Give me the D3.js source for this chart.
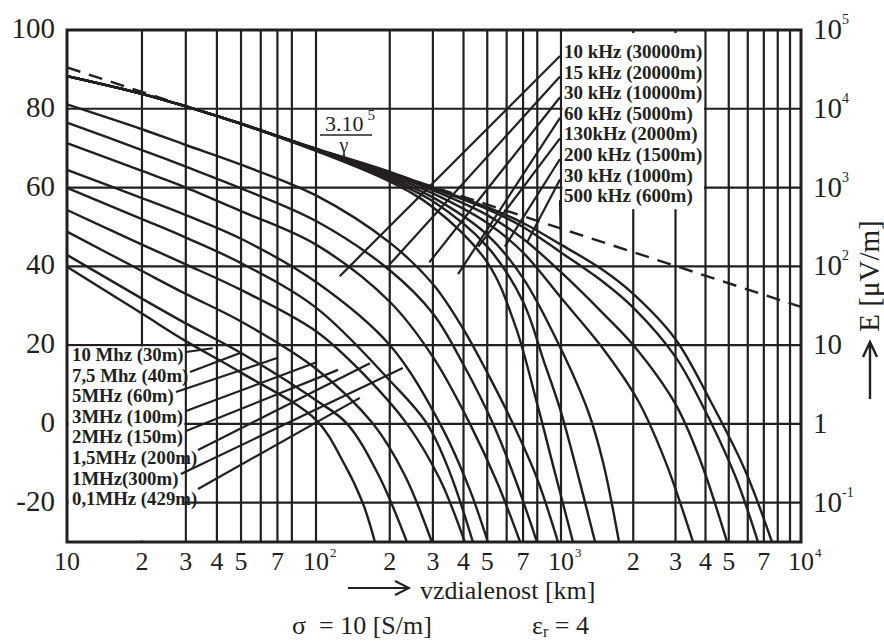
<!DOCTYPE html>
<html><head><meta charset="utf-8">
<script src="https://cdn.jsdelivr.net/npm/d3@7"></script>
<style>body{margin:0;background:#fff}svg{display:block}</style>
</head><body><svg id="c" width="884" height="642"></svg>
<script>
// ---------- data ----------
const yGridValues = [-20, 0, 20, 40, 60, 80];
const yTickLabels = ["-20", "0", "20", "40", "60", "80", "100"];
const yTickValues = [-20, 0, 20, 40, 60, 80, 100];
const rightTickBase = ["10", "1", "10", "10", "10", "10", "10"];
const rightTickExp  = ["-1", "", "", "2", "3", "4", "5"];
const xGridValues = [20,30,40,50,60,70,80,100,200,300,400,500,600,700,800,1000,2000,3000,4000,5000,6000,7000,8000,9000];
const xTickValues = [10,20,30,40,50,70,100,200,300,400,500,700,1000,2000,3000,4000,5000,7000,10000];
const xTickBase   = ["10","2","3","4","5","7","10","2","3","4","5","7","10","2","3","4","5","7","10"];
const xTickExp    = ["","","","","","","2","","","","","","3","","","","","","4"];
const refLine = [[10, 90.5], [10000, 29.7]];

// field-strength curves [distance km, dB]
const curveK1 = [[10,88.3],[20,83.8],[30,80.6],[50,76.2],[100,69.9],[200,64],[300,60],[500,55],[700,51],[1000,45.5],[1500,39],[2000,33],[3000,21.5],[4180,6],[5840,-11.7],[7570,-30]];
const curveK2 = [[10,88.3],[20,83.8],[30,80.6],[50,76.2],[100,69.8],[200,63.8],[300,59.8],[500,54.5],[700,50],[1000,43.5],[1500,36],[2000,29.5],[3000,17],[3790,6],[5300,-13],[6620,-30]];
const curveK3 = [[10,88.3],[20,83.8],[30,80.6],[50,76.2],[100,69.7],[200,63.5],[300,59.3],[500,53],[700,47],[1000,38.5],[1500,28],[2000,20],[3000,5],[3790,-9],[4920,-30]];
const curveK4 = [[10,88.3],[20,83.8],[30,80.6],[50,76.2],[100,69.6],[200,63],[300,58.5],[500,51],[700,43.5],[1000,32],[1500,19],[2090,6],[2710,-9.2],[3550,-30]];
const curveK5 = [[10,88.3],[20,83.8],[30,80.6],[50,76.2],[100,69.5],[200,62.5],[300,57.5],[500,48],[700,37],[1000,19],[1300,3],[1500,-10],[1745,-30]];
const curveK6 = [[10,88.3],[20,83.8],[30,80.6],[50,76.2],[100,69.4],[200,62],[300,56.5],[500,45],[700,31],[850,16],[1000,3],[1200,-15],[1387,-30]];
const curveK7 = [[10,88.3],[20,83.8],[30,80.6],[50,76.2],[100,69.3],[200,61.5],[300,55],[500,41],[650,25],[800,5],[950,-13],[1122,-30]];
const curveM1 = [[10,81.1],[20,74.8],[30,70.8],[50,65.8],[100,58],[200,46],[300,35.5],[400,24],[500,13],[637,0],[800,-14],[972,-30]];
const curveM2 = [[10,76.5],[20,69.5],[30,65.3],[50,59.8],[100,51.5],[200,39],[300,28],[400,15],[528,0],[650,-14],[798,-30]];
const curveM3 = [[10,71.3],[20,64.2],[30,60],[50,54],[100,45.5],[200,31],[300,17],[425,0],[550,-15],[681,-30]];
const curveM4 = [[10,64.5],[20,57.3],[30,53],[50,47],[100,36],[200,20],[321,0],[420,-16],[503,-30]];
const curveM5 = [[10,59.9],[20,52],[30,47.3],[50,40.8],[100,29.5],[200,11],[284,0],[350,-12],[437,-30]];
const curveM6 = [[10,54.3],[20,45.5],[30,40.5],[50,34],[100,23.5],[160,12],[235,0],[320,-14],[405,-30]];
const curveM7 = [[10,48.8],[20,38.8],[30,33],[50,26],[100,14],[171,0],[230,-13],[297,-30]];
const curveM8 = [[10,42.9],[20,31.8],[30,25.5],[50,18],[100,6],[134,0],[180,-13],[235,-30]];
const curveM9 = [[10,39.9],[20,28],[30,21],[50,13],[100,1],[130,-10],[155,-20],[174,-30]];
const curves = [curveK1, curveK2, curveK3, curveK4, curveK5, curveK6, curveK7,
                curveM1, curveM2, curveM3, curveM4, curveM5, curveM6, curveM7, curveM8, curveM9];

const kLabels = ["10 kHz (30000m)","15 kHz (20000m)","30 kHz (10000m)","60 kHz (5000m)",
                 "130kHz (2000m)","200 kHz (1500m)","30 kHz (1000m)","500 kHz (600m)"];
// leader targets for upper labels [km, dB]
const kLeaderEnd = [[125,37.5],[200,40.5],[290,41],[380,38],[460,45],[590,45],[730,46.3],[1000,44.5]];
const mLabels = ["10 Mhz (30m)","7,5 Mhz (40m)","5MHz (60m)","3MHz (100m)",
                 "2MHz (150m)","1,5MHz (200m)","1MHz(300m)","0,1MHz (429m)"];
// leader targets for lower labels [km, dB]
const mLeaderEnd = [[38.5,19.2],[50.5,18.2],[69.7,16.7],[101,15.7],[123,13.7],[166,15.4],[226,14.2],[151,6.6]];
const mLeaderStartX = [186, 190, 176, 186, 186, 198, 181, 198];
const mLeaderStartY = [352, 372, 392, 411, 431, 450, 474, 489];

// ---------- drawing ----------
const ink = "#231f20";
const font = "'Liberation Serif','Times New Roman',Times,serif";
const svg = d3.select("#c");
const x = d3.scaleLog().domain([10,100,1000,10000]).range([67,316,561,801]);
const y = d3.scaleLinear().domain([-30,100]).range([542,30]);

const g = svg.append("g");
g.selectAll(".vg").data(xGridValues).join("line")
  .attr("x1", d=>x(d)).attr("x2", d=>x(d)).attr("y1", y(100)).attr("y2", y(-30))
  .attr("stroke", ink).attr("stroke-width", 2.2);
g.selectAll(".hg").data(yGridValues).join("line")
  .attr("x1", x(10)).attr("x2", x(10000)).attr("y1", d=>y(d)).attr("y2", d=>y(d))
  .attr("stroke", ink).attr("stroke-width", 2.2);

const line = d3.line().x(d=>x(d[0])).y(d=>y(d[1]));
g.append("path").datum(refLine).attr("d", line).attr("fill","none")
  .attr("stroke", ink).attr("stroke-width", 2.4).attr("stroke-dasharray","14,9");

const cline = d3.line().x(d=>x(d[0])).y(d=>y(d[1])).curve(d3.curveCatmullRom.alpha(0.5));
g.append("g").selectAll("path").data(curves).join("path")
  .attr("d", cline).attr("fill","none").attr("stroke", ink).attr("stroke-width", 2.4);

// white label boxes
g.append("rect").attr("x", x(1000)+1.5).attr("y", y(100)+3).attr("width", x(4000)-x(1000)-3)
  .attr("height", y(54.5)-y(100)-3).attr("fill","#fff");
g.append("rect").attr("x", x(10)+1.5).attr("y", y(20)+1.5).attr("width", x(30)-x(10)-3)
  .attr("height", y(-30)-y(20)-3).attr("fill","#fff");

g.append("rect").attr("x", x(10)).attr("y", y(100)).attr("width", x(10000)-x(10))
  .attr("height", y(-30)-y(100)).attr("fill","none").attr("stroke", ink).attr("stroke-width", 3);

const kRow0 = 58, rowStep = 20.6;
g.selectAll(".kl").data(kLabels).join("text")
  .attr("x", x(1000)+3).attr("y", (d,i)=>kRow0+i*rowStep)
  .attr("font-family", font).attr("font-weight","bold").attr("font-size", 19).attr("fill", ink)
  .text(d=>d);
g.selectAll(".kld").data(kLeaderEnd).join("line")
  .attr("x1", x(1000)-1).attr("y1", (d,i)=>kRow0-2+i*rowStep)
  .attr("x2", d=>x(d[0])).attr("y2", d=>y(d[1]))
  .attr("stroke", ink).attr("stroke-width", 2.2);

const mRow0 = 361;
g.selectAll(".ml").data(mLabels).join("text")
  .attr("x", 72).attr("y", (d,i)=>mRow0+i*rowStep)
  .attr("font-family", font).attr("font-weight","bold").attr("font-size", 18.8).attr("fill", ink)
  .text(d=>d);
g.selectAll(".mld").data(mLeaderEnd).join("line")
  .attr("x1", (d,i)=>mLeaderStartX[i]).attr("y1", (d,i)=>mLeaderStartY[i])
  .attr("x2", d=>x(d[0])).attr("y2", d=>y(d[1]))
  .attr("stroke", ink).attr("stroke-width", 2.2);

g.selectAll(".yl").data(yTickValues).join("text")
  .attr("x", 55).attr("y", d=>y(d)+8).attr("text-anchor","end")
  .attr("font-family", font).attr("font-size", 29).attr("fill", ink)
  .text((d,i)=>yTickLabels[i]);

const rt = g.selectAll(".rl").data(yTickValues).join("text")
  .attr("x", 813).attr("y", d=>y(d)+9)
  .attr("font-family", font).attr("font-size", 29).attr("fill", ink);
rt.append("tspan").text((d,i)=>rightTickBase[i]);
rt.append("tspan").attr("dy", -15).attr("font-size", 14).text((d,i)=>rightTickExp[i]);

// bottom tick labels: base centred on grid line, exponent placed after it
g.selectAll(".bl").data(xTickValues).join("text")
  .attr("x", d=>x(d)).attr("y", 570).attr("text-anchor","middle")
  .attr("font-family", font).attr("font-size", 26).attr("fill", ink)
  .text((d,i)=>xTickBase[i]);
g.selectAll(".be").data(xTickValues.filter((d,i)=>xTickExp[i]!=="")).join("text")
  .attr("x", d=>x(d)+14).attr("y", 557)
  .attr("font-family", font).attr("font-size", 13).attr("fill", ink)
  .text(d=>xTickExp[xTickValues.indexOf(d)]);

g.append("path").attr("d","M348,588 L409,588 M395,581 L409,588 L395,595")
  .attr("fill","none").attr("stroke", ink).attr("stroke-width", 2);
g.append("text").attr("x", 420).attr("y", 599).attr("font-family", font).attr("font-size", 26)
  .attr("fill", ink).text("vzdialenost [km]");

g.append("text").attr("transform","translate(879,276) rotate(-90)").attr("text-anchor","middle")
  .attr("font-family", font).attr("font-size", 29).attr("fill", ink).text("E [μV/m]");
g.append("path").attr("d","M870,399 L870,342 M863,357 L870,342 L877,357")
  .attr("fill","none").attr("stroke", ink).attr("stroke-width", 2.4);

const frac = g.append("text").attr("x", 325).attr("y", 131).attr("font-family", font)
  .attr("font-size", 22).attr("fill", ink);
frac.append("tspan").text("3.10");
frac.append("tspan").attr("dx", 4).attr("dy", -11).attr("font-size", 15).text("5");
g.append("line").attr("x1", 320).attr("x2", 372).attr("y1", 135).attr("y2", 135)
  .attr("stroke", ink).attr("stroke-width", 1.3);
g.append("text").attr("x", 344).attr("y", 152).attr("text-anchor","middle").attr("font-family", font)
  .attr("font-size", 20).attr("fill", ink).text("γ");

g.append("text").attr("x", 292).attr("y", 634).attr("font-family", font).attr("font-size", 26)
  .attr("fill", ink).attr("xml:space","preserve").text("σ  = 10 [S/m]");
const eps = g.append("text").attr("x", 532).attr("y", 634).attr("font-family", font).attr("font-size", 26)
  .attr("fill", ink);
eps.append("tspan").text("ε");
eps.append("tspan").attr("font-size", 16).attr("dy", 3).text("r");
eps.append("tspan").attr("dy", -3).text(" = 4");
</script></body></html>
